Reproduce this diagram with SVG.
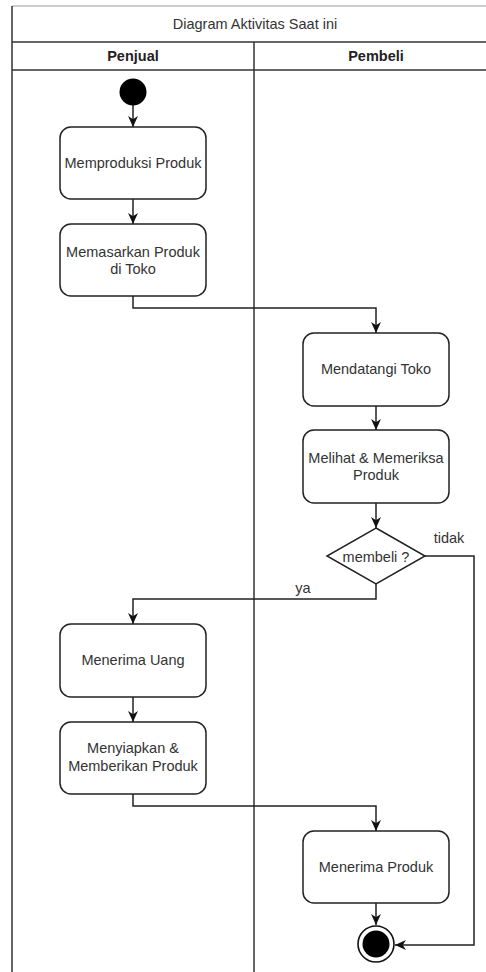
<svg xmlns="http://www.w3.org/2000/svg" width="486" height="972" viewBox="0 0 486 972">
<defs>
<style>
.lane{fill:none;stroke:#333;stroke-width:1.5}
.node rect{fill:#fff;stroke:#222;stroke-width:1.5}
.t{font-family:"Liberation Sans",Arial,sans-serif;font-size:14.5px;fill:#333;text-anchor:middle}
.h{font-weight:bold;fill:#222}
.c{fill:none;stroke:#222;stroke-width:1.5}
</style>
<marker id="ah" viewBox="0 0 10 10" refX="10" refY="5" markerWidth="11" markerHeight="11" markerUnits="userSpaceOnUse" orient="auto">
<path d="M0,0.5 L10,5 L0,9.5 L3,5 Z" fill="#111"/>
</marker>
</defs>
<rect width="486" height="972" fill="#fff"/>
<g id="pool">
<line x1="12" y1="6" x2="486" y2="6" stroke="#999" stroke-width="1.2"/>
<line class="lane" x1="12" y1="6" x2="12" y2="972"/>
<line class="lane" x1="12" y1="42" x2="486" y2="42"/>
<line class="lane" x1="12" y1="70" x2="486" y2="70"/>
<line class="lane" x1="254" y1="42" x2="254" y2="972"/>
<text class="t" x="255" y="29">Diagram Aktivitas Saat ini</text>
<text class="t h" x="133" y="61">Penjual</text>
<text class="t h" x="376" y="61">Pembeli</text>
</g>
<g id="connectors">
<path class="c" d="M133,105 V127" marker-end="url(#ah)"/>
<path class="c" d="M133,199 V224" marker-end="url(#ah)"/>
<path class="c" d="M133,296 V308 H376 V333" marker-end="url(#ah)"/>
<path class="c" d="M376,406 V430" marker-end="url(#ah)"/>
<path class="c" d="M376,503 V528" marker-end="url(#ah)"/>
<path class="c" d="M376,584 V599 H133 V624" marker-end="url(#ah)"/>
<path class="c" d="M425,556 H474 V945 H395" marker-end="url(#ah)"/>
<path class="c" d="M133,697 V722" marker-end="url(#ah)"/>
<path class="c" d="M133,794 V806 H376 V831" marker-end="url(#ah)"/>
<path class="c" d="M376,903 V925" marker-end="url(#ah)"/>
<text class="t" x="449" y="543">tidak</text>
<text class="t" x="303" y="593">ya</text>
</g>
<g id="start"><circle cx="133" cy="92" r="13.5" fill="#000"/></g>
<g id="n1" class="node"><rect x="60" y="127" width="146" height="72" rx="11"/><text class="t" x="133" y="168">Memproduksi Produk</text></g>
<g id="n2" class="node"><rect x="60" y="224" width="146" height="72" rx="11"/><text class="t" x="133" y="257">Memasarkan Produk</text><text class="t" x="133" y="274">di Toko</text></g>
<g id="n3" class="node"><rect x="303" y="333" width="146" height="73" rx="11"/><text class="t" x="376" y="374">Mendatangi Toko</text></g>
<g id="n4" class="node"><rect x="303" y="430" width="146" height="73" rx="11"/><text class="t" x="376" y="463">Melihat &amp; Memeriksa</text><text class="t" x="376" y="480">Produk</text></g>
<g id="d1"><path d="M376,528 L425,556 L376,584 L327,556 Z" fill="#fff" stroke="#222" stroke-width="1.5"/><text class="t" x="376" y="562">membeli ?</text></g>
<g id="n5" class="node"><rect x="60" y="624" width="146" height="73" rx="11"/><text class="t" x="133" y="665">Menerima Uang</text></g>
<g id="n6" class="node"><rect x="60" y="722" width="146" height="72" rx="11"/><text class="t" x="133" y="753">Menyiapkan &amp;</text><text class="t" x="133" y="771">Memberikan Produk</text></g>
<g id="n7" class="node"><rect x="303" y="831" width="146" height="72" rx="11"/><text class="t" x="376" y="872">Menerima Produk</text></g>
<g id="end"><circle cx="376" cy="944" r="18" fill="#fff" stroke="#111" stroke-width="1.6"/><circle cx="376" cy="944" r="13.5" fill="#000"/></g>
</svg>
